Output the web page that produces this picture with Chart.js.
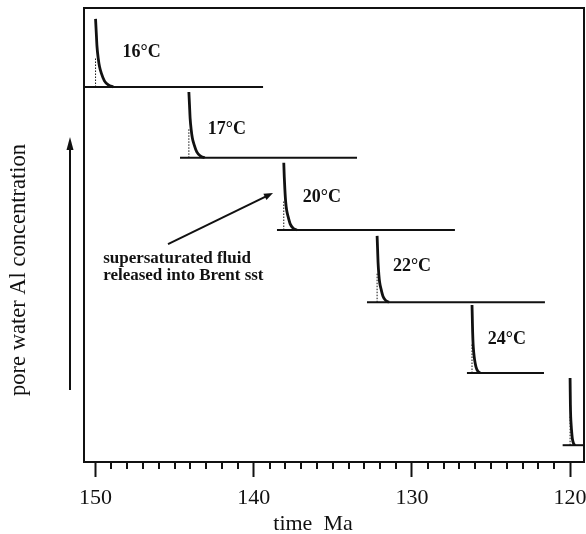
<!DOCTYPE html>
<html>
<head>
<meta charset="utf-8">
<script src="https://cdn.jsdelivr.net/npm/chart.js@4.4.1/dist/chart.umd.min.js"></script>
<style>
  html, body { margin: 0; padding: 0; background: #fff; }
  #wrap { width: 586px; height: 534px; position: relative; }
</style>
</head>
<body>
<div id="wrap"><canvas id="chart"></canvas></div>
<script>
// one pulse of supersaturated pore water per temperature step
const tempLabels = ["16°C", "17°C", "20°C", "22°C", "24°C", ""];
const peakTimes = [150.0, 144.1, 138.1, 132.2, 126.2, 120.0];
const baseLevels = [82.6, 67.0, 51.1, 35.2, 19.6, 3.7];
const baseStart = [150.8, 144.66, 138.53, 132.84, 126.52, 120.47];
const baseEnd = [139.41, 133.47, 127.28, 121.59, 121.65, 119.0];
const dottedTops = [89.2, 73.6, 57.7, 41.8, 26.2, 10.3];

// decay curves (time Ma, arbitrary concentration)
const decayTimes = [
  [150.0, 149.955, 149.91, 149.83, 149.75, 149.63, 149.44, 149.19, 148.88],
  [144.1, 144.06, 144.02, 143.95, 143.88, 143.77, 143.6, 143.38, 143.1],
  [138.1, 138.07, 138.03, 137.98, 137.92, 137.83, 137.69, 137.51, 137.28],
  [132.2, 132.17, 132.14, 132.09, 132.04, 131.95, 131.83, 131.66, 131.45],
  [126.2, 126.18, 126.16, 126.13, 126.09, 126.04, 125.95, 125.84, 125.7],
  [120.0, 119.99, 119.98, 119.96, 119.93, 119.9, 119.85, 119.78, 119.7],
];
const decayLevels = [
  [97.6, 94.6, 91.6, 88.9, 87.1, 85.6, 83.95, 83.05, 82.6],
  [81.5, 78.6, 75.7, 73.1, 71.35, 69.9, 68.3, 67.45, 67.0],
  [65.9, 62.9, 60.0, 57.3, 55.5, 54.1, 52.4, 51.5, 51.1],
  [49.8, 46.9, 44.0, 41.3, 39.6, 38.1, 36.5, 35.6, 35.2],
  [34.6, 31.6, 28.6, 25.9, 24.1, 22.6, 20.95, 20.05, 19.6],
  [18.5, 15.5, 12.6, 9.9, 8.1, 6.7, 5.0, 4.1, 3.7],
];

// label anchors (time Ma, level)
const labelTimes = [148.3, 142.9, 136.9, 131.2, 125.2];
const labelLevels = [90.3, 73.2, 58.4, 43.0, 27.0];
const noteLines = ["supersaturated fluid", "released into Brent sst"];
const noteAt = [149.52, 43.8];
const noteArrow = [[145.42, 48.0], [138.78, 59.25]];

const INK = "#111";
const SERIF = "'Liberation Serif', 'Times New Roman', serif";

const datasets = [];
peakTimes.forEach((t, i) => {
  datasets.push({
    data: [{ x: baseStart[i], y: baseLevels[i] }, { x: baseEnd[i], y: baseLevels[i] }],
    borderColor: INK, borderWidth: 2,
  });
  datasets.push({
    data: [{ x: t, y: baseLevels[i] }, { x: t, y: dottedTops[i] }],
    borderColor: INK, borderWidth: 1, borderDash: [1.5, 1.5],
  });
  datasets.push({
    data: decayTimes[i].map((x, k) => ({ x, y: decayLevels[i][k] })),
    borderColor: INK, borderWidth: 2.8, cubicInterpolationMode: "monotone",
  });
});

function arrowHead(ctx, x1, y1, x2, y2, len, half) {
  const a = Math.atan2(y2 - y1, x2 - x1);
  ctx.beginPath();
  ctx.moveTo(x2, y2);
  ctx.lineTo(x2 - len * Math.cos(a) + half * Math.sin(a), y2 - len * Math.sin(a) - half * Math.cos(a));
  ctx.lineTo(x2 - len * Math.cos(a) - half * Math.sin(a), y2 - len * Math.sin(a) + half * Math.cos(a));
  ctx.closePath();
  ctx.fill();
}

const decorations = {
  id: "decorations",
  afterDraw(chart) {
    const { ctx, chartArea: a, scales: { x, y } } = chart;
    ctx.save();
    ctx.strokeStyle = INK;
    ctx.fillStyle = INK;

    // frame
    ctx.lineWidth = 2;
    ctx.strokeRect(a.left, a.top, a.right - a.left, a.bottom - a.top);

    // minor ticks
    ctx.lineWidth = 2;
    x.ticks.forEach((tk) => {
      if (tk.value % 10 === 0) return;
      const px = Math.round(x.getPixelForValue(tk.value));
      ctx.beginPath();
      ctx.moveTo(px, a.bottom);
      ctx.lineTo(px, a.bottom + 7);
      ctx.stroke();
    });

    // temperature labels
    ctx.font = "bold 18px " + SERIF;
    ctx.textAlign = "left";
    ctx.textBaseline = "middle";
    labelTimes.forEach((t, i) => {
      ctx.fillText(tempLabels[i], x.getPixelForValue(t), y.getPixelForValue(labelLevels[i]));
    });

    // note with arrow
    ctx.font = "bold 17px " + SERIF;
    ctx.textBaseline = "alphabetic";
    const nx = x.getPixelForValue(noteAt[0]);
    const ny = y.getPixelForValue(noteAt[1]);
    noteLines.forEach((s, k) => ctx.fillText(s, nx, ny + k * 17));
    const ax1 = x.getPixelForValue(noteArrow[0][0]), ay1 = y.getPixelForValue(noteArrow[0][1]);
    const ax2 = x.getPixelForValue(noteArrow[1][0]), ay2 = y.getPixelForValue(noteArrow[1][1]);
    const ang = Math.atan2(ay2 - ay1, ax2 - ax1);
    ctx.lineWidth = 2;
    ctx.beginPath();
    ctx.moveTo(ax1, ay1);
    ctx.lineTo(ax2 - 6 * Math.cos(ang), ay2 - 6 * Math.sin(ang));
    ctx.stroke();
    arrowHead(ctx, ax1, ay1, ax2, ay2, 9, 3.5);

    // y-axis title and arrow
    ctx.save();
    ctx.translate(25, 270);
    ctx.rotate(-Math.PI / 2);
    ctx.font = "22.5px " + SERIF;
    ctx.textAlign = "center";
    ctx.fillText("pore water Al concentration", 0, 0);
    ctx.restore();
    ctx.lineWidth = 2;
    ctx.beginPath();
    ctx.moveTo(70, 390);
    ctx.lineTo(70, 146);
    ctx.stroke();
    arrowHead(ctx, 70, 390, 70, 137, 13, 3.5);

    // x-axis title
    ctx.font = "22px " + SERIF;
    ctx.textAlign = "center";
    ctx.fillText("time  Ma", 313, 530);
    ctx.restore();
  },
};

new Chart(document.getElementById("chart"), {
  type: "scatter",
  data: { datasets },
  options: {
    responsive: true,
    maintainAspectRatio: false,
    animation: false,
    showLine: true,
    layout: { padding: { left: 84, top: 8, right: 2, bottom: 0 } },
    elements: { point: { radius: 0, hoverRadius: 0 }, line: { tension: 0 } },
    plugins: { legend: { display: false }, tooltip: { enabled: false } },
    scales: {
      x: {
        type: "linear",
        reverse: true,
        min: 119.12,
        max: 150.73,
        afterFit: (s) => { s.height = 72; s.paddingLeft = 0; s.paddingRight = 0; },
        border: { display: true, color: INK, width: 2 },
        grid: {
          drawOnChartArea: false,
          drawTicks: true,
          tickLength: 15,
          tickWidth: 2,
          tickColor: (c) => (c.tick && c.tick.value % 10 === 0 ? INK : "rgba(0,0,0,0)"),
        },
        ticks: {
          stepSize: 1,
          includeBounds: false,
          autoSkip: false,
          maxRotation: 0,
          padding: 8,
          color: INK,
          font: { family: SERIF, size: 22 },
          callback: (v) => (v % 10 === 0 ? String(v) : ""),
        },
      },
      y: { display: false, min: 0, max: 100 },
    },
  },
  plugins: [decorations],
});
</script>
</body>
</html>
